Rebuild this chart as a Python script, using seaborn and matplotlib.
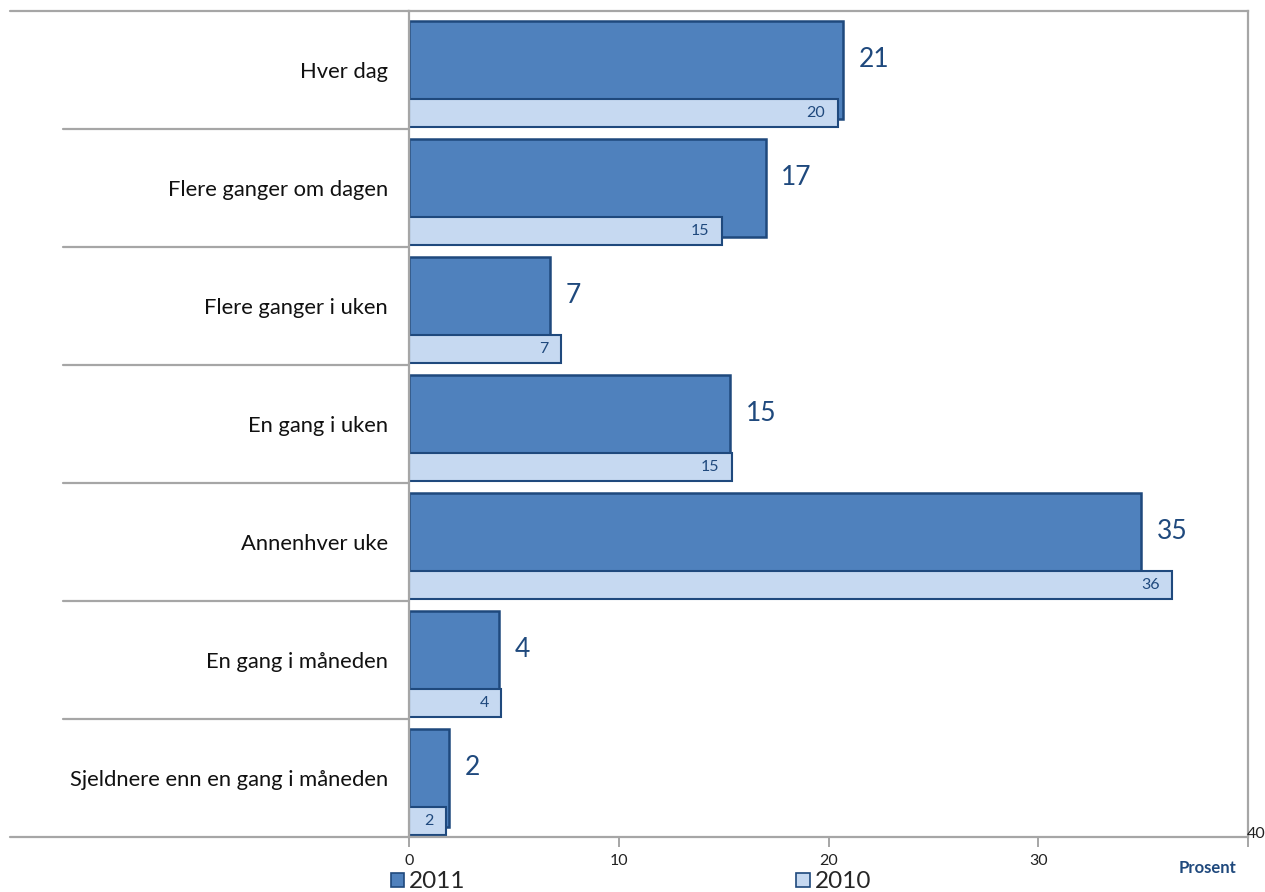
import numpy as np
import pandas as pd
import seaborn as sns
import matplotlib.pyplot as plt
from matplotlib.patches import Patch
import matplotlib.transforms as mtransforms

categories = ["Hver dag", "Flere ganger om dagen", "Flere ganger i uken",
              "En gang i uken", "Annenhver uke", "En gang i måneden",
              "Sjeldnere enn en gang i måneden"]
v2011 = [20.7, 17.0, 6.7, 15.3, 34.9, 4.3, 1.9]
v2010 = [20.45, 14.9, 7.25, 15.4, 36.4, 4.4, 1.75]
xticks = [0, 10, 20, 30, 40]

DARK = "#1F497D"
C2011 = "#4F81BD"
C2010 = "#C6D9F1"
GRID = "#A6A6A6"

sns.set_theme(style="white")
plt.rcParams["font.family"] = ["Lato", "DejaVu Sans"]

fig = plt.figure(figsize=(12.65, 8.92), dpi=100)
ax = fig.add_axes([409 / 1265, 1 - 837 / 892, (1248 - 409) / 1265, (837 - 11) / 892])

pos = np.arange(len(categories))
df = pd.DataFrame({"pos": pos, "pos10": pos + 0.366, "v2011": v2011, "v2010": v2010})

sns.barplot(data=df, x="v2011", y="pos", orient="h", native_scale=True, width=0.833,
            color=C2011, edgecolor=DARK, linewidth=1.8, saturation=1, ax=ax, errorbar=None)
sns.barplot(data=df, x="v2010", y="pos10", orient="h", native_scale=True, width=0.238,
            color=C2010, edgecolor=DARK, linewidth=1.5, saturation=1, ax=ax, errorbar=None)

ax.set_xlim(0, 40)
ax.set_ylim(len(categories) - 0.5, -0.5)

for i, (a, b) in enumerate(zip(v2011, v2010)):
    ax.text(a + 0.75, i - 0.085, f"{a:.0f}", ha="left", va="center", fontsize=19, color=DARK)
    ax.text(b - 0.6, i + 0.366, f"{b:.0f}", ha="right", va="center", fontsize=11.5, color=DARK)

for s in ax.spines.values():
    s.set_color(GRID)
    s.set_linewidth(1.6)

trans = mtransforms.blended_transform_factory(ax.transAxes, ax.transData)
for k in range(len(categories) - 1):
    ax.plot([-0.4124, 0], [k + 0.5, k + 0.5], color=GRID, lw=1.6, transform=trans, clip_on=False)
ax.plot([-0.4756, 0], [1, 1], color=GRID, lw=1.6, transform=ax.transAxes, clip_on=False)
ax.plot([-0.4756, 0], [0, 0], color=GRID, lw=1.6, transform=ax.transAxes, clip_on=False)

ax.set_xticks(xticks)
ax.set_xticklabels([str(t) if t != 40 else "" for t in xticks], fontsize=11.5, color="#222222")
ax.tick_params(axis="x", bottom=True, length=7, width=1.4, color=GRID, pad=5)
ax.set_yticks(pos)
ax.set_yticklabels(categories, fontsize=15.8, color="#111111")
ax.tick_params(axis="y", left=False, length=0, pad=15)
ax.set_xlabel("")
ax.set_ylabel("")

fig.text(1256 / 1265, 1 - 834 / 892, "40", ha="center", va="center", fontsize=11.5, color="#222222")
fig.text(1236 / 1265, 1 - 868 / 892, "Prosent", ha="right", va="center", fontsize=12,
         fontweight="bold", color=DARK)

handles = [Patch(facecolor=C2011, edgecolor=DARK, lw=1.2, label="2011"),
           Patch(facecolor=C2010, edgecolor=DARK, lw=1.2, label="2010")]
fig.legend(handles=handles, loc="center left", bbox_to_anchor=(391 / 1265, 1 - 882 / 892),
           ncol=2, frameon=False, fontsize=17.5, handlelength=0.55, handleheight=0.55,
           handletextpad=0.2, columnspacing=13.6, borderpad=0, borderaxespad=0)

fig.savefig("out.png", dpi=100)
